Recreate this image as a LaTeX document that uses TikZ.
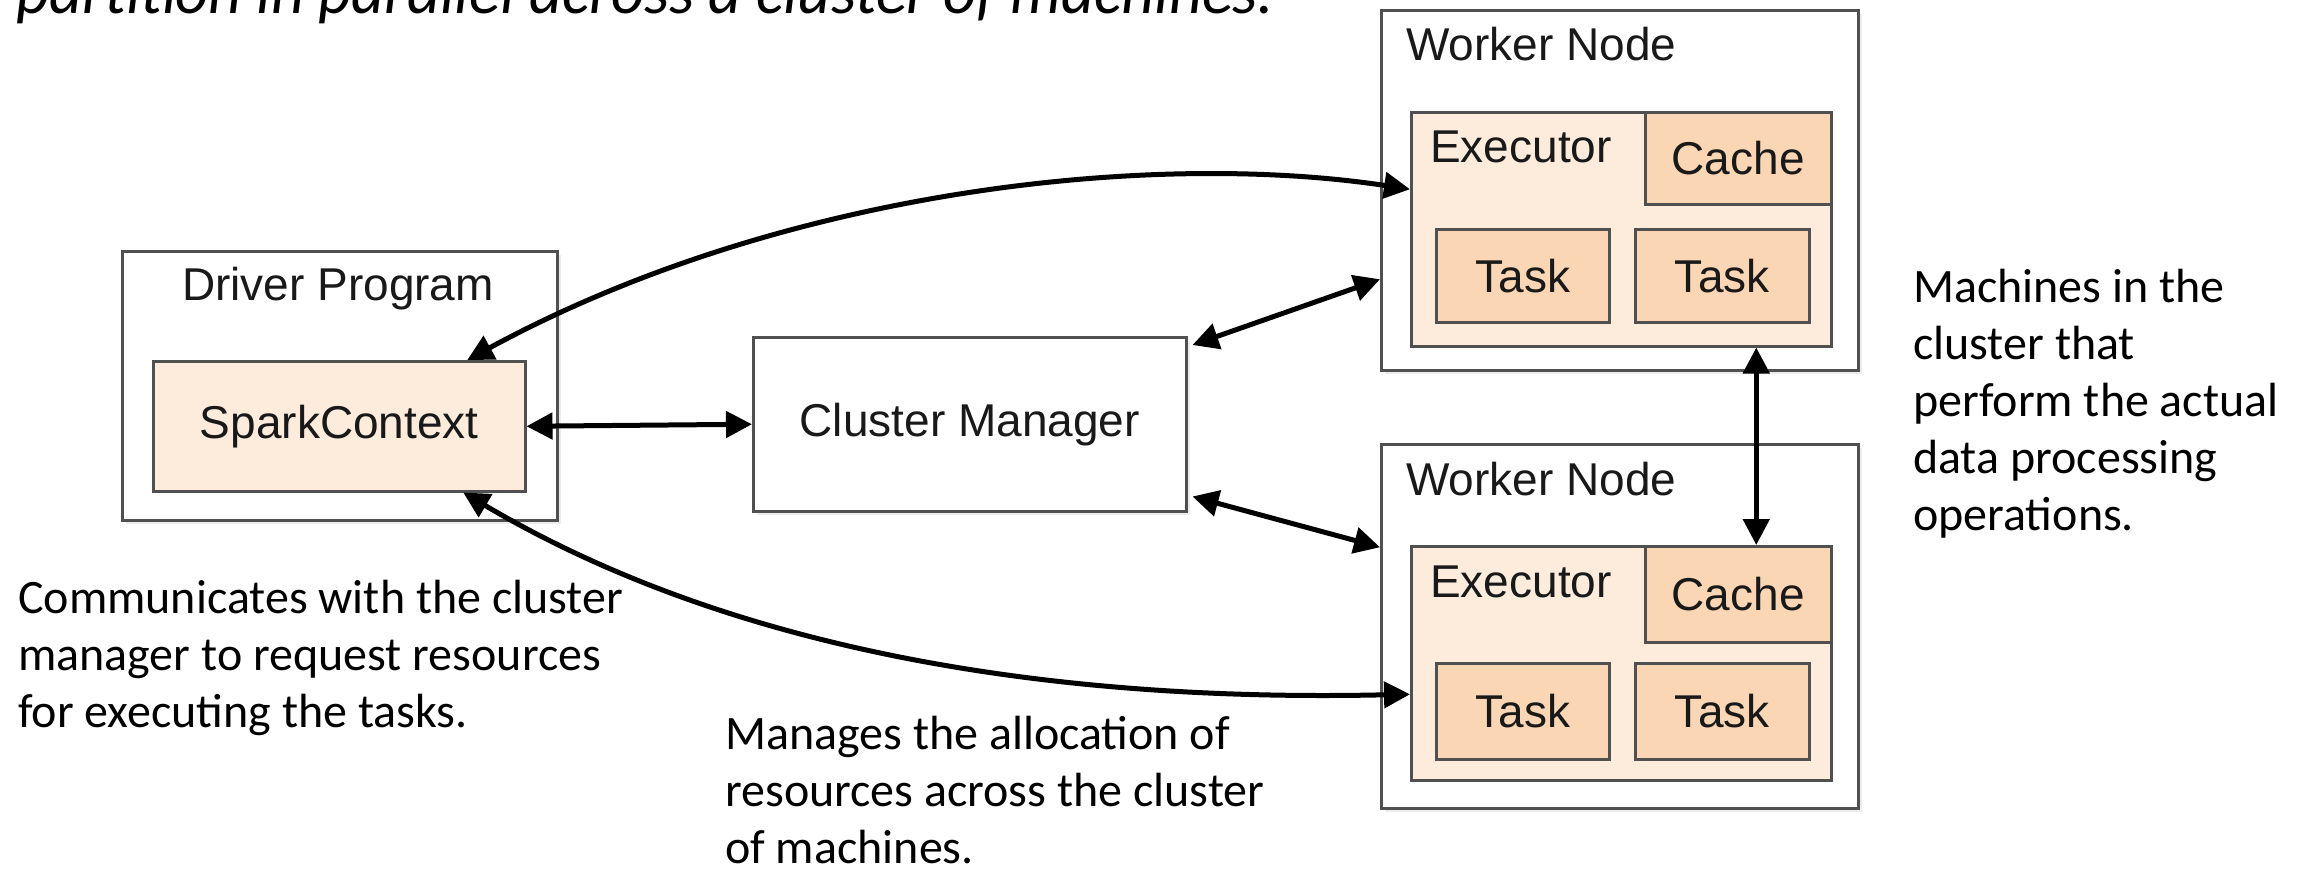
\documentclass[tikz,border=0pt]{standalone}
\usepackage{fontspec}
\setmainfont{Liberation Sans}
\newfontfamily\calib{Carlito}
\usetikzlibrary{arrows.meta,shadows}

\definecolor{boxline}{RGB}{80,80,80}
\definecolor{execfill}{RGB}{253,235,220}
\definecolor{taskfill}{RGB}{250,214,180}
\definecolor{lbltext}{RGB}{25,25,25}

\begin{document}
\begin{tikzpicture}[x=1pt,y=-1pt,
  box/.style={draw=boxline, line width=2.5pt, inner sep=0pt, anchor=north west, text=lbltext,
              font=\fontsize{46}{52}\selectfont},
  outer/.style={box, fill=white, drop shadow={opacity=0.15, shadow xshift=4pt, shadow yshift=-4pt}},
  execbox/.style={box, fill=execfill},
  taskbox/.style={box, fill=taskfill},
  lbl/.style={inner sep=0pt, text=lbltext, font=\fontsize{46}{52}\selectfont},
  note/.style={inner sep=0pt, anchor=base west, font=\calib\fontsize{48}{57}\selectfont},
  tipx/.tip={Triangle[length=26pt,width=26pt]},
  conn/.style={line width=5pt, tipx-tipx},
]
\useasboundingbox (0,0) rectangle (2305,868);

% top cut-off caption
\node[inner sep=0pt, anchor=base west, font=\calib\itshape\fontsize{64.3}{70}\selectfont] (cap) at (16,13)
  {partition in parallel across a cluster of machines.};

% driver
\node[outer, minimum width=435pt, minimum height=269pt] (driver) at (121,250) {};
\node[lbl, anchor=base] (driverlbl) at (338,300) {Driver Program};
\node[execbox, minimum width=372pt, minimum height=130pt] (sc) at (152,360) {SparkContext};

% cluster manager
\node[outer, minimum width=433pt, minimum height=174pt] (cm) at (752,336) {Cluster Manager};

% worker 1
\node[outer, minimum width=477pt, minimum height=360pt] (w1) at (1380,9) {};
\node[lbl, anchor=base west] (w1lbl) at (1406,60) {Worker Node};
\node[execbox, minimum width=420pt, minimum height=234pt] (exec1) at (1410,111) {};
\node[lbl, anchor=base west] (exec1lbl) at (1430,162) {Executor};
\node[taskbox, minimum width=186pt, minimum height=92pt] (cache1) at (1644,111) {Cache};
\node[taskbox, minimum width=173pt, minimum height=93pt] (t1a) at (1435,228) {Task};
\node[taskbox, minimum width=174pt, minimum height=93pt] (t1b) at (1634,228) {Task};

% worker 2
\node[outer, minimum width=477pt, minimum height=364pt] (w2) at (1380,443) {};
\node[lbl, anchor=base west] (w2lbl) at (1406,495) {Worker Node};
\node[execbox, minimum width=420pt, minimum height=234pt] (exec2) at (1410,545) {};
\node[lbl, anchor=base west] (exec2lbl) at (1430,597) {Executor};
\node[taskbox, minimum width=186pt, minimum height=96pt] (cache2) at (1644,545) {Cache};
\node[taskbox, minimum width=173pt, minimum height=96pt] (t2a) at (1435,662) {Task};
\node[taskbox, minimum width=174pt, minimum height=96pt] (t2b) at (1634,662) {Task};

% connectors
\draw[conn] (sc.east) -- (cm.west);
\draw[conn] ([xshift=128pt]sc.north) .. controls (780,190) and (1150,150) .. ([yshift=40pt]exec1.west);
\draw[conn] ([xshift=124pt]sc.south) .. controls (780,680) and (1150,700) .. ([yshift=-31pt]exec2.west);
\draw[conn] ([xshift=5pt,yshift=-9pt]cm.north east) -- ([yshift=-89pt]w1.west);
\draw[conn] ([xshift=5pt,yshift=16pt]cm.south east) -- ([yshift=79pt]w2.west);
\coordinate (vt) at ([xshift=18pt]cache2.north);
\draw[conn] (vt |- exec1.south) -- (vt);

% annotations
\node[note] (n1) at (18,613) {\begin{tabular}[t]{@{}l@{}}Communicates with the cluster\\manager to request resources\\for executing the tasks.\end{tabular}};
\node[note] (n2) at (725,749) {\begin{tabular}[t]{@{}l@{}}Manages the allocation of\\resources across the cluster\\of machines.\end{tabular}};
\node[note] (n3) at (1913,302) {\begin{tabular}[t]{@{}l@{}}Machines in the\\cluster that\\perform the actual\\data processing\\operations.\end{tabular}};
\end{tikzpicture}
\end{document}
